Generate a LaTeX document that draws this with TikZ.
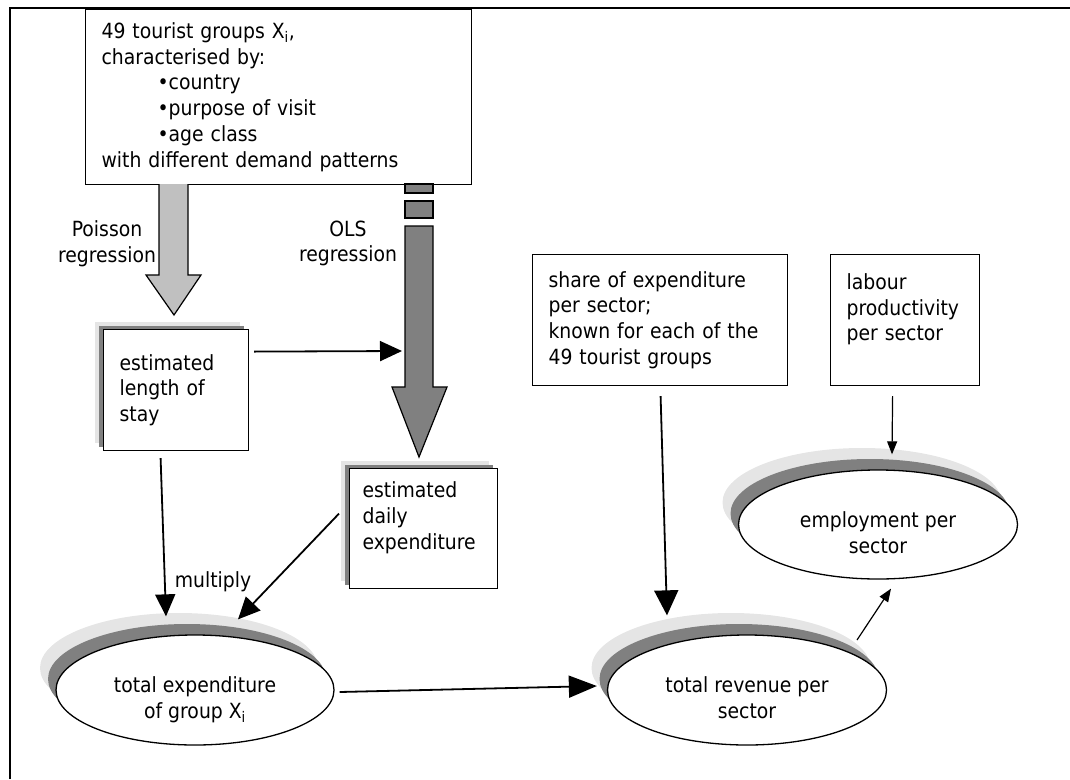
\documentclass[tikz,border=0pt]{standalone}
\usepackage{fontspec}
\setmainfont[FakeStretch=0.9]{DejaVu Sans}
\usetikzlibrary{arrows.meta}
\usetikzlibrary{shapes.geometric}
\usetikzlibrary{shadows}
\usetikzlibrary{calc}
\definecolor{shadelight}{HTML}{E5E5E5}
\definecolor{shadedark}{HTML}{808080}
\definecolor{poissongray}{HTML}{C0C0C0}
\tikzstyle{databox}=[draw,rectangle,line width=1.2pt,fill=white,inner xsep=16pt,inner ysep=0pt,align=left,anchor=north west]
\tikzstyle{boxshadow}=[general shadow={fill=shadelight,shadow xshift=-9pt,shadow yshift=8pt},general shadow={fill=shadedark,shadow xshift=-4.5pt,shadow yshift=4pt}]
\tikzstyle{result}=[draw,ellipse,line width=1.3pt,fill=white,inner sep=0pt,align=center,text height=66pt,text depth=9pt,general shadow={fill=shadelight,shadow xshift=-16pt,shadow yshift=22pt},general shadow={fill=shadedark,shadow xshift=-8pt,shadow yshift=11pt}]
\tikzstyle{bigarrow}=[line width=1.8pt,-{Triangle[length=22pt,width=20pt]}]
\tikzstyle{smallarrow}=[line width=1.2pt,-{Triangle[length=13pt,width=10pt]}]
\tikzstyle{blockarrow}=[line width=1.2pt,line join=miter]

\begin{document}
\begin{tikzpicture}[x=1pt,y=-1pt,font=\fontsize{20.9}{25.8}\selectfont]
  \useasboundingbox (0,0) rectangle (1070,779);

  % Frame.
  \draw[line width=2.2pt] (10,779) -- (10,8) -- (1070,8);

  % Input boxes.
  \node[databox,text width=354pt,minimum height=175pt] (groups) at (85,9)
    {49 tourist groups X\textsubscript{i},\\
     characterised by:\\
     \hspace*{56pt}•country\\
     \hspace*{56pt}•purpose of visit\\
     \hspace*{56pt}•age class\\
     with different demand patterns};
  \node[databox,text width=223pt,minimum height=131pt] (share) at (532,254)
    {share of expenditure\\per sector;\\known for each of the\\49 tourist groups};
  \node[databox,text width=117pt,minimum height=131pt] (labour) at (830,254)
    {labour\\productivity\\per sector\\\mbox{}};

  % Estimated boxes.
  \node[databox,boxshadow,text width=113pt,minimum height=121pt] (stay) at (103,329)
    {estimated\\length of\\stay};
  \node[databox,boxshadow,inner xsep=13pt,text width=122pt,minimum height=120pt] (daily) at (349,468)
    {estimated\\daily\\expenditure\\\mbox{}};

  % Results.
  \node[result,minimum width=278pt,minimum height=110pt] (total) at (195,690)
    {total expenditure\\of group X\textsubscript{i}};
  \node[result,minimum width=279pt,minimum height=110pt] (revenue) at (747,690)
    {total revenue per\\sector};
  \node[result,minimum width=279pt,minimum height=109pt] (employ) at (878,524.5)
    {employment per\\sector};

  % Regression arrows.
  \filldraw[blockarrow,fill=poissongray] (159,184) -- (159,275) -- (146,275)
    -- (174,315) -- (201,275) -- (188,275) -- (188,184);
  \filldraw[blockarrow,fill=shadedark] (405,184) rectangle (433,193);
  \filldraw[blockarrow,fill=shadedark] (405,201) rectangle (433,218);
  \filldraw[blockarrow,fill=shadedark] (405,226) -- (405,387) -- (392,387)
    -- (419,457) -- (447,387) -- (433,387) -- (433,226) -- cycle;

  % Arrow labels.
  \node[align=center] (poissonlabel) at (107,243.5) {Poisson\\regression};
  \node[align=center] (olslabel) at (348,243.5) {OLS\\regression};
  \node (multiplylabel) at (213,582) {multiply};

  % Connectors.
  \coordinate (olsin) at (402,351);
  \draw[bigarrow] ($(stay.east)+(5,-38.5)$) -- (olsin);
  \draw[bigarrow] ($(stay.south)+(-15.5,7)$) -- ($(total.north)+(-29,-18)$);
  \draw[bigarrow] ($(daily.west)+(-10,-15)$) -- ($(total.north)+(43,-15)$);
  \draw[bigarrow,-{Triangle[length=28pt,width=22pt]}] ($(total.east)+(5,2)$) -- ($(revenue.west)+(-10,-4)$);
  \draw[bigarrow,-{Triangle[length=25pt,width=24pt]}] ($(share.south)+(0.5,10)$) -- ($(revenue.north)+(-80,-19)$);
  \draw[smallarrow] ($(labour.south)+(-12.5,10)$) -- ($(employ.north)+(14,-15)$);
  \draw[smallarrow] ($(revenue.center)+(110,-50)$) -- ($(employ.south)+(13,9)$);
\end{tikzpicture}
\end{document}
